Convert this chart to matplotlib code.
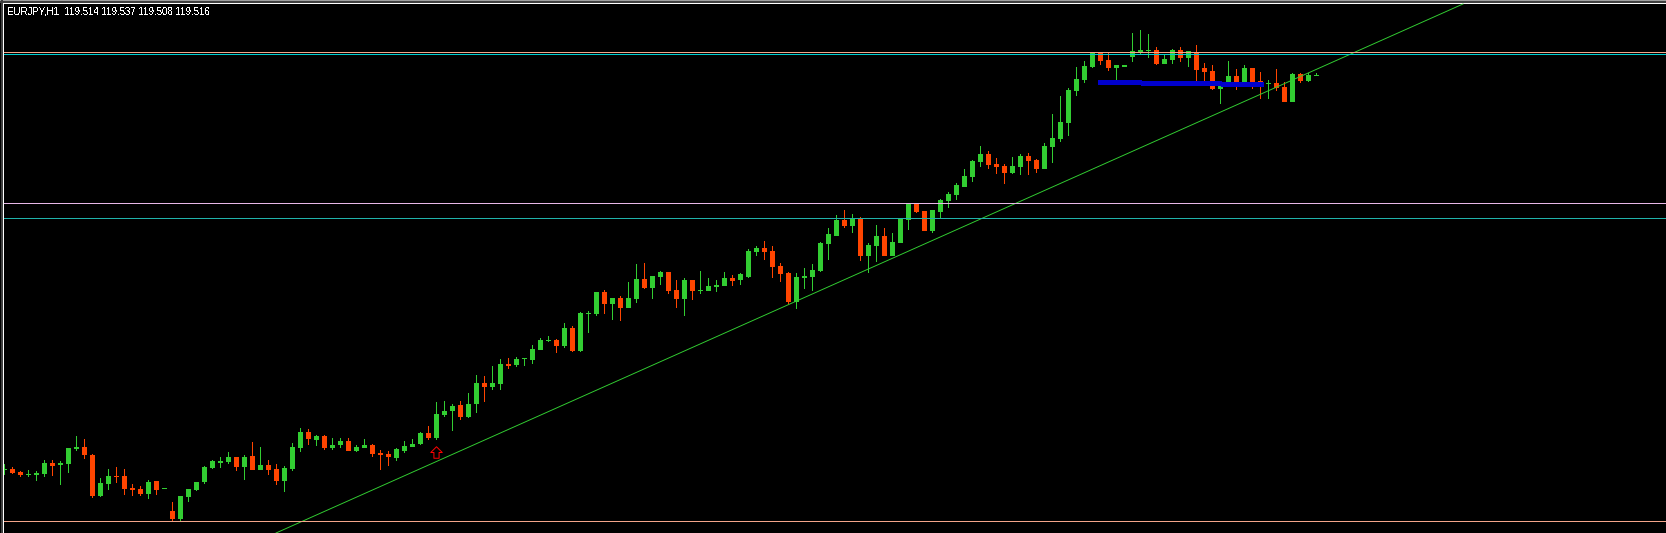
import matplotlib
matplotlib.use("Agg")
import matplotlib.pyplot as plt
import numpy as np
from matplotlib.path import Path

highs = [464, 467, 471, 470, 471, 460, 460, 461, 448, 436,
         439, 454, 478, 469, 467, 469, 484, 486, 480, 481,
         488, 502, 496, 489, 482, 466, 460, 457, 452, 457,
         455, 442, 447, 460, 464, 466, 443, 428, 429, 435,
         435, 438, 438, 438, 445, 439, 444, 450, 451, 448,
         441, 439, 432, 426, 402, 401, 404, 401, 393, 375,
         376, 366, 359, 358, 357, 358, 345, 338, 336, 339,
         323, 326, 312, 311, 292, 290, 298, 296, 282, 264,
         263, 276, 271, 272, 280, 278, 280, 271, 278, 280,
         272, 275, 273, 249, 246, 241, 246, 263, 272, 273,
         268, 264, 242, 228, 215, 210, 214, 217, 243, 225,
         228, 233, 218, 204, 204, 211, 210, 199, 192, 183,
         169, 160, 146, 151, 158, 164, 157, 154, 153, 159,
         143, 114, 96, 88, 67, 61, 52, 53, 53, 65,
         65, 33, 30, 34, 47, 55, 49, 47, 51, 45,
         63, 65, 86, 61, 69, 65, 68, 72, 80, 69,
         82, 73, 73, 73, 73]
tops = [469, 469, 472, 474, 473, 463, 463, 463, 448, 447,
        447, 455, 483, 476, 476, 476, 488, 489, 482, 481,
        488, 511, 496, 489, 482, 467, 461, 461, 457, 457,
        457, 456, 465, 465, 469, 468, 447, 432, 432, 436,
        436, 445, 441, 441, 447, 445, 445, 453, 454, 449,
        446, 444, 433, 433, 414, 411, 406, 405, 404, 383,
        383, 383, 364, 364, 359, 358, 349, 340, 340, 340,
        328, 328, 313, 313, 292, 292, 298, 298, 298, 279,
        279, 276, 272, 272, 290, 280, 280, 290, 286, 285,
        278, 278, 274, 251, 248, 248, 251, 266, 273, 277,
        276, 270, 243, 234, 220, 220, 219, 219, 245, 236,
        236, 242, 219, 204, 204, 211, 210, 200, 194, 185,
        176, 161, 154, 154, 164, 166, 166, 156, 156, 160,
        146, 138, 122, 90, 79, 66, 53, 53, 60, 65,
        65, 51, 50, 50, 50, 59, 50, 50, 51, 53,
        68, 71, 86, 76, 76, 68, 68, 81, 83, 83,
        87, 74, 74, 75, 75]
bottoms = [470, 473, 475, 475, 475, 474, 466, 465, 464, 449,
           455, 496, 496, 484, 477, 489, 490, 494, 494, 490,
           489, 519, 519, 497, 490, 482, 468, 463, 462, 467,
           467, 470, 470, 470, 481, 481, 469, 448, 439, 440,
           448, 448, 445, 451, 451, 448, 454, 455, 457, 458,
           451, 447, 444, 438, 438, 415, 411, 417, 417, 404,
           387, 387, 384, 366, 365, 359, 360, 350, 341, 346,
           346, 351, 351, 314, 314, 304, 304, 308, 308, 299,
           288, 288, 277, 291, 299, 299, 291, 291, 291, 287,
           286, 281, 280, 277, 252, 252, 267, 274, 302, 302,
           278, 277, 271, 244, 236, 226, 226, 256, 256, 246,
           256, 256, 243, 220, 212, 231, 231, 212, 201, 195,
           187, 177, 162, 165, 167, 173, 173, 167, 161, 169,
           169, 147, 139, 123, 91, 80, 67, 61, 68, 68,
           67, 57, 52, 51, 64, 64, 60, 58, 58, 70,
           72, 89, 89, 82, 86, 85, 86, 85, 84, 88,
           102, 102, 81, 81, 76]
lows = [475, 474, 477, 477, 481, 477, 476, 485, 473, 451,
        459, 498, 497, 490, 483, 495, 496, 496, 499, 495,
        489, 521, 521, 502, 491, 484, 469, 468, 464, 471,
        480, 470, 470, 475, 485, 492, 471, 452, 445, 446,
        450, 450, 448, 451, 452, 448, 457, 470, 466, 461,
        453, 447, 445, 440, 440, 417, 431, 420, 418, 413,
        402, 390, 390, 369, 367, 366, 364, 350, 342, 353,
        348, 352, 352, 333, 316, 314, 320, 321, 308, 303,
        289, 299, 285, 294, 308, 316, 300, 294, 291, 292,
        286, 286, 285, 278, 256, 260, 278, 282, 304, 309,
        289, 291, 272, 260, 236, 228, 233, 261, 273, 262,
        256, 256, 243, 230, 213, 231, 233, 218, 208, 200,
        187, 182, 167, 169, 174, 184, 174, 175, 175, 173,
        169, 163, 142, 136, 96, 83, 68, 65, 71, 80,
        67, 62, 54, 58, 65, 64, 64, 62, 67, 82,
        82, 90, 104, 82, 90, 85, 89, 99, 99, 91,
        102, 102, 83, 82, 76]
# g = up candle, r = down candle
sides = ("grrgggrggg" "rrggrrrrgr" "grgggggggr" "grgrrgggrg" "rggrggrrrg"
         "gggrgggrgg" "rggrgggggr" "grgggrgrgg" "rggrrgrggg" "grgggrrrrg"
         "gggggrgrgg" "rgggrrgggg" "gggrrrggrr" "gggggggrrg" "ggggrggrgr"
         "rrggrgrrgr" "rgrgg")

trend_x = [276, 1463]
trend_y = [533, 4]
level_rows = [52, 54, 203, 218, 521]
level_colors = ["#F4A58A", "#00CED1", "#E8B8E8", "#20B2AA", "#F4A58A"]
blue_start = [1098, 1141, 1221]
blue_end = [1141, 1221, 1263]
blue_level = [82.4, 83.4, 84.4]
arrow_x = 436.5
arrow_y = 452

assert len(highs) == len(tops) == len(bottoms) == len(lows) == len(sides) == 165

x = 4.5 + 8 * np.arange(len(highs))
highs = np.array(highs, dtype=float)
lows = np.array(lows, dtype=float)
tops = np.array(tops, dtype=float)
bottoms = np.array(bottoms, dtype=float)
colors = ["#32CD32" if s == "g" else "#FF4500" for s in sides]

fig = plt.figure(figsize=(16.66, 5.33), dpi=100, facecolor="black")
ax = fig.add_axes([0, 0, 1, 1], facecolor="black")
ax.set_xlim(0, 1666)
ax.set_ylim(533, 0)
ax.axis("off")

px = 72 / fig.dpi

ax.bar(x, lows - highs, bottom=highs, width=1, color=colors, linewidth=0, antialiased=False, zorder=2)
ax.bar(x, bottoms - tops, bottom=tops, width=5, color=colors, linewidth=0, antialiased=False, zorder=2)

ax.plot(trend_x, trend_y, color="#32CD32", lw=0.95 * px, antialiased=True, zorder=3)
# +0.4 rather than +0.5 so the snapping lands on the intended row
for row, c in zip(level_rows, level_colors):
    ax.hlines(row + 0.4, 4, 1666, color=c, lw=px, antialiased=False, zorder=3)
ax.hlines(blue_level, blue_start, blue_end, color="#0000CD", lw=5 * px, antialiased=False, zorder=4)

arrow = Path([(0, 1), (1, 0), (0.45, 0), (0.45, -1), (-0.45, -1), (-0.45, 0), (-1, 0), (0, 1)], closed=True)
ax.plot([arrow_x], [arrow_y], marker=arrow, ms=11.5 * px, mfc="none", mec="#FF0000", mew=px, zorder=4)

# terminal window frame
ax.hlines(0.4, 0, 1666, color="#A0A0A0", lw=px, antialiased=False)
ax.hlines(1.9, 0, 1666, color="#404040", lw=2 * px, antialiased=False)
ax.hlines(3.4, 3, 1666, color="white", lw=px, antialiased=False)
ax.vlines(0.5, 0, 533, color="#A0A0A0", lw=px, antialiased=False)
ax.vlines(2, 0, 533, color="#404040", lw=2 * px, antialiased=False)
ax.vlines(3.5, 3, 533, color="white", lw=px, antialiased=False)

ax.text(7, 12, "EURJPY,H1  119.514 119.537 119.508 119.516", color="white", family="Liberation Sans",
        fontsize=7, va="center", ha="left", antialiased=False)

fig.savefig("out.png", dpi=100, facecolor="black")
